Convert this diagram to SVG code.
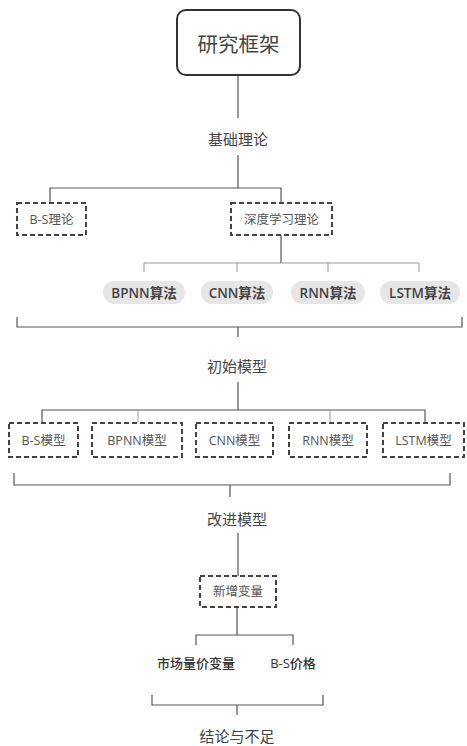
<svg xmlns="http://www.w3.org/2000/svg" width="467" height="746" viewBox="0 0 467 746">
<defs>
<style>
text{font-family:"Open Sans","Noto Sans CJK SC",sans-serif;fill:#444;text-anchor:middle;dominant-baseline:central}
.lvl{font-size:15px}
.box{fill:#fff;stroke:#444;stroke-width:2;stroke-dasharray:5 3}
.bl{font-size:12.5px;fill:#555}
.pill{fill:#e6e6e6;stroke:none}
.pl{font-size:13.5px;font-weight:600;fill:#444}
.sl{font-size:13px;font-weight:500;fill:#333}
.ln{stroke:#555;stroke-width:1.2;fill:none}
.thin{stroke:#999;stroke-width:1;fill:none}
</style>
</defs>
<rect width="467" height="746" fill="#fff"/>
<g id="connectors">
<path class="ln" d="M238 75V118"/>
<path class="ln" d="M238 155V188M50 203V188H281V203"/>
<path class="ln" d="M281 235V263"/>
<path class="thin" d="M144 272V263H419V272M237 263V272M328 263V272"/>
<path class="ln" d="M17 317V327H462V317M238 327V337"/>
<path class="ln" d="M238 382V410M42 423V410H425V423"/>
<path class="thin" d="M138 410V423M330 410V423"/>
<path class="ln" d="M14 473V485H450V473M230 485V497"/>
<path class="ln" d="M238 533V576"/>
<path class="ln" d="M237 607V635M196 645V635H293V645"/>
<path class="ln" d="M152 695V705H323V695M237 705V715"/>
</g>
<g id="root"><rect x="177" y="10" width="123" height="65" rx="9" fill="#fff" stroke="#333" stroke-width="2"/><text x="238.5" y="44" font-size="20.5" fill="#333">研究框架</text></g>
<g id="jichu"><text class="lvl" x="238" y="139">基础理论</text></g>
<g id="bs-theory"><rect class="box" x="17" y="203" width="69" height="32"/><text class="bl" x="51.5" y="219">B-S理论</text></g>
<g id="dl-theory"><rect class="box" x="231" y="203" width="101" height="32"/><text class="bl" x="281.5" y="219">深度学习理论</text></g>
<g id="bpnn-alg"><rect class="pill" x="103" y="281" width="82" height="23" rx="11.5"/><text class="pl" x="144" y="292.5">BPNN算法</text></g>
<g id="cnn-alg"><rect class="pill" x="201" y="281" width="72" height="23" rx="11.5"/><text class="pl" x="237" y="292.5">CNN算法</text></g>
<g id="rnn-alg"><rect class="pill" x="291" y="281" width="74" height="23" rx="11.5"/><text class="pl" x="328" y="292.5">RNN算法</text></g>
<g id="lstm-alg"><rect class="pill" x="380" y="281" width="80" height="23" rx="11.5"/><text class="pl" x="420" y="292.5">LSTM算法</text></g>
<g id="chushi"><text class="lvl" x="237" y="366">初始模型</text></g>
<g id="bs-model"><rect class="box" x="9" y="423" width="69" height="34"/><text class="bl" x="43.5" y="440">B-S模型</text></g>
<g id="bpnn-model"><rect class="box" x="92" y="423" width="90" height="34"/><text class="bl" x="137" y="440">BPNN模型</text></g>
<g id="cnn-model"><rect class="box" x="196" y="423" width="77" height="34"/><text class="bl" x="234.5" y="440">CNN模型</text></g>
<g id="rnn-model"><rect class="box" x="289" y="423" width="78" height="34"/><text class="bl" x="328" y="440">RNN模型</text></g>
<g id="lstm-model"><rect class="box" x="383" y="423" width="81" height="34"/><text class="bl" x="423.5" y="440">LSTM模型</text></g>
<g id="gaijin"><text class="lvl" x="237" y="519">改进模型</text></g>
<g id="xinzeng"><rect class="box" x="200" y="576" width="76" height="31"/><text class="bl" x="238" y="591.5">新增变量</text></g>
<g id="shichang"><text class="sl" x="196" y="663">市场量价变量</text></g>
<g id="bs-price"><text class="sl" x="293" y="663">B-S价格</text></g>
<g id="jielun"><text class="lvl" x="237" y="736">结论与不足</text></g>
</svg>
